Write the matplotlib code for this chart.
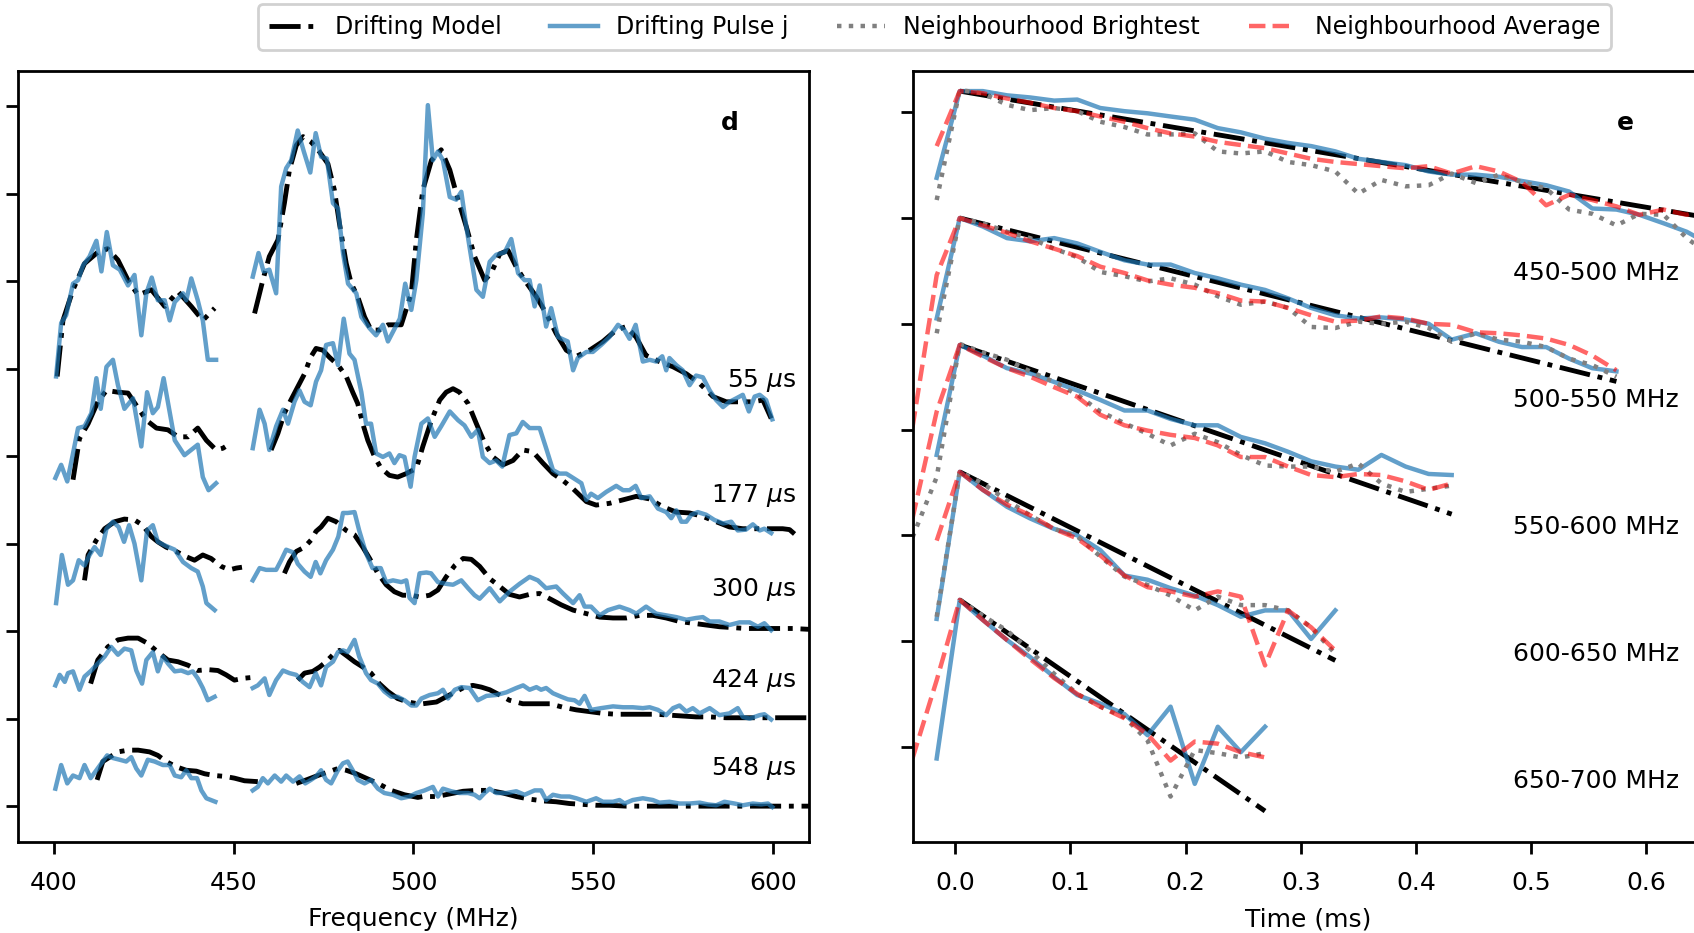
import numpy as np
import matplotlib.pyplot as plt

nan = np.nan

# =========================================================
# Panel d: spectra of the drifting pulse at five times
# (values relative to each pulse's stacking offset)
# =========================================================
pulse_times_us = [55, 177, 300, 424, 548]
pulse_offsets = [4, 3, 2, 1, 0]
pulse_label_y = [4.86, 3.55, 2.47, 1.44, 0.43]

# --- 55 us ---
p55_freq = [400.6, 402.0, 403.4, 405.3, 406.7, 408.1, 409.9, 411.8, 413.2, 414.7, 416.4, 418.3,
            420.6, 422.4, 424.3, 425.7, 427.2, 428.9, 430.8, 432.2, 433.6, 435.9, 436.8, 438.2,
            440.0, 441.4, 442.8, 445.1, nan,
            455.3, 456.9, 458.3, 459.9, 461.8, 462.5, 463.2, 464.6, 466.0, 467.8, 469.5, 471.3,
            472.8, 474.3, 475.9, 477.6, 479.0, 480.4, 481.8, 484.1, 485.5, 487.8, 489.6, 491.5,
            492.9, 494.3, 496.2, 497.7, 499.4, 500.8, 502.6, 504.0, 505.4, 506.8, 508.2, 510.1,
            511.9, 513.3, 514.7, 517.5, 519.3, 521.2, 523.0, 525.4, 527.2, 529.1, 530.9, 532.3,
            533.7, 535.1, 536.9, 538.3, 540.2, 542.9, 544.4, 545.7, 548.1, 549.9, 552.2, 554.5,
            556.9, 558.7, 560.1, 561.8, 563.8, 565.7, 567.5, 569.2, 570.3, 571.2, 573.1, 574.9,
            576.8, 578.6, 580.5, 582.4, 584.2, 586.1, 587.9, 589.8, 591.6, 593.3, 594.9, 596.3,
            598.1, 599.8]
p55_data = [0.91, 1.52, 1.61, 1.97, 2.01, 2.18, 2.28, 2.46, 2.11, 2.56, 2.18, 2.13,
            1.95, 2.07, 1.38, 1.86, 2.04, 1.78, 1.78, 1.55, 1.76, 1.86, 1.78, 2.03,
            1.78, 1.55, 1.10, 1.10, nan,
            2.05, 2.32, 2.11, 2.13, 1.86, 2.47, 3.08, 3.29, 3.38, 3.72, 3.48, 3.24,
            3.69, 3.42, 3.40, 2.89, 2.83, 2.32, 1.97, 1.86, 1.59, 1.46, 1.38, 1.50,
            1.31, 1.42, 1.57, 1.97, 1.67, 2.01, 2.77, 4.01, 3.38, 3.48, 3.38, 2.96,
            2.93, 3.02, 2.62, 1.90, 1.82, 2.22, 2.30, 2.33, 2.48, 2.09, 2.01, 2.01,
            1.71, 1.95, 1.48, 1.69, 1.36, 1.31, 0.98, 1.12, 1.19, 1.19, 1.27, 1.36,
            1.50, 1.44, 1.34, 1.50, 1.08, 1.10, 1.08, 1.14, 0.98, 1.12, 1.04, 0.98,
            0.81, 0.92, 0.90, 0.75, 0.64, 0.56, 0.62, 0.66, 0.70, 0.51, 0.68, 0.70,
            0.64, 0.42]
p55_model_freq = [400.9, 402.5, 405.3, 408.5, 412.2, 414.9, 417.8, 420.6, 423.4, 427.1, 430.8,
                  434.5, 438.2, 441.4, 444.7, nan,
                  455.8, 458.1, 459.9, 462.3, 464.1, 465.5, 467.4, 469.3, 471.5, 473.8, 476.2,
                  478.0, 479.4, 481.3, 482.7, 484.5, 486.4, 488.2, 490.5, 492.9, 496.6, 499.4,
                  500.8, 502.6, 505.0, 507.7, 510.1, 512.4, 514.7, 517.0, 519.8, 521.6, 524.0,
                  526.3, 528.6, 530.9, 534.2, 536.9, 539.7, 542.5, 545.3, 549.0, 552.7, 556.4,
                  559.2, 561.9, 564.7, 568.4, 572.2, 575.9, 579.6, 583.3, 587.0, 590.7, 594.4,
                  597.2, 599.5]
p55_model = [0.91, 1.55, 1.90, 2.20, 2.33, 2.37, 2.24, 2.01, 1.84, 1.90, 1.71,
             1.88, 1.71, 1.55, 1.69, nan,
             1.63, 2.01, 2.28, 2.47, 2.89, 3.27, 3.55, 3.65, 3.59, 3.48, 3.34,
             3.04, 2.66, 2.20, 1.97, 1.82, 1.59, 1.44, 1.44, 1.50, 1.50, 1.86,
             2.47, 3.04, 3.38, 3.50, 3.27, 2.93, 2.62, 2.28, 2.01, 2.09, 2.31,
             2.35, 2.16, 2.01, 1.82, 1.63, 1.40, 1.21, 1.14, 1.21, 1.31, 1.44,
             1.48, 1.36, 1.15, 1.08, 1.02, 0.94, 0.83, 0.68, 0.62, 0.62, 0.62,
             0.64, 0.43]

# --- 177 us ---
p177_freq = [400.4, 402.0, 403.7, 405.3, 406.7, 408.5, 410.4, 411.8, 413.0, 414.6, 416.4, 417.8,
             419.6, 422.0, 424.3, 425.9, 427.5, 428.9, 430.5, 433.6, 436.3, 440.0, 441.4, 443.0,
             445.1, nan,
             455.3, 457.2, 458.6, 459.9, 461.8, 463.7, 465.1, 466.9, 468.3, 469.7, 471.4, 472.9,
             474.3, 475.7, 477.6, 479.0, 480.6, 482.2, 483.6, 485.5, 486.8, 488.2, 489.6, 491.5,
             493.3, 494.7, 496.1, 497.5, 499.2, 500.3, 502.2, 504.0, 505.9, 507.7, 510.1, 512.4,
             514.2, 516.1, 517.9, 519.3, 521.2, 523.0, 524.7, 526.7, 528.6, 530.4, 532.3, 535.1,
             536.9, 538.8, 540.6, 542.5, 544.8, 546.7, 548.1, 549.4, 551.3, 553.6, 556.4, 558.3,
             560.1, 561.8, 563.4, 565.7, 568.0, 570.3, 571.7, 573.1, 574.5, 575.9, 577.3, 579.1,
             581.4, 583.7, 586.1, 588.4, 590.2, 592.5, 594.4, 596.3, 597.6, 599.5]
p177_data = [0.75, 0.90, 0.71, 1.03, 1.32, 1.34, 1.49, 1.89, 1.54, 2.02, 2.10, 1.81,
             1.54, 1.66, 1.11, 1.73, 1.49, 1.56, 1.89, 1.18, 1.01, 1.13, 0.76, 0.61,
             0.69, nan,
             1.09, 1.53, 1.37, 1.07, 1.34, 1.53, 1.37, 1.62, 1.75, 1.62, 1.58, 1.85,
             1.98, 2.27, 2.29, 2.04, 2.57, 2.17, 2.10, 1.73, 1.37, 1.37, 1.03, 0.99,
             1.03, 0.92, 1.01, 0.99, 0.65, 0.99, 1.37, 1.43, 1.22, 1.34, 1.51, 1.41,
             1.35, 1.22, 1.30, 0.99, 0.92, 0.95, 0.88, 1.24, 1.26, 1.39, 1.32, 1.32,
             1.09, 0.84, 0.80, 0.80, 0.74, 0.69, 0.50, 0.57, 0.52, 0.59, 0.66, 0.61,
             0.61, 0.66, 0.52, 0.54, 0.40, 0.36, 0.29, 0.38, 0.25, 0.25, 0.33, 0.36,
             0.33, 0.27, 0.23, 0.25, 0.15, 0.16, 0.22, 0.15, 0.17, 0.12]
p177_model_freq = [405.3, 407.1, 409.5, 412.2, 414.6, 417.8, 420.6, 422.9, 425.7, 428.5, 431.7,
                   434.5, 437.3, 440.0, 442.4, 445.1, 447.0, 449.3, nan,
                   460.4, 462.3, 464.1, 465.9, 467.8, 469.7, 471.4, 472.9, 474.8, 476.6, 479.0,
                   481.3, 483.1, 484.5, 485.9, 487.3, 489.2, 491.0, 493.3, 495.6, 498.0, 500.8,
                   502.6, 505.0, 507.3, 509.1, 511.0, 512.8, 515.2, 517.5, 519.8, 522.1, 524.9,
                   527.7, 530.4, 533.2, 536.0, 538.8, 541.6, 544.3, 548.1, 550.8, 554.5, 558.3,
                   562.0, 565.7, 569.4, 573.1, 576.8, 580.5, 584.2, 587.9, 591.6, 595.3, 599.0,
                   602.7, 604.6, 606.0]
p177_model = [0.73, 1.20, 1.37, 1.62, 1.75, 1.73, 1.72, 1.58, 1.41, 1.32, 1.30,
              1.22, 1.22, 1.32, 1.18, 1.07, 1.09, 1.15, nan,
              1.07, 1.26, 1.49, 1.64, 1.79, 1.94, 2.13, 2.23, 2.21, 2.13, 2.04,
              1.91, 1.73, 1.60, 1.37, 1.18, 0.99, 0.86, 0.78, 0.76, 0.80, 0.86,
              1.11, 1.41, 1.64, 1.73, 1.77, 1.73, 1.60, 1.37, 1.15, 0.99, 0.90,
              0.95, 1.07, 1.05, 0.92, 0.80, 0.72, 0.63, 0.48, 0.44, 0.46, 0.50,
              0.54, 0.51, 0.42, 0.36, 0.35, 0.31, 0.25, 0.19, 0.17, 0.17, 0.17,
              0.17, 0.16, 0.11]

# --- 300 us ---
p300_freq = [400.6, 402.2, 403.9, 405.3, 406.9, 408.5, 409.9, 411.3, 413.0, 414.6, 416.4, 418.0,
             419.5, 420.9, 422.4, 424.3, 425.9, 427.5, 428.9, 430.8, 433.6, 435.9, 438.2, 440.0,
             441.4, 442.4, 444.7, nan,
             455.3, 457.2, 459.0, 461.8, 463.2, 464.6, 466.5, 467.8, 469.7, 471.4, 472.8, 474.1,
             475.7, 477.6, 479.1, 480.4, 481.7, 483.6, 484.9, 486.8, 488.6, 490.9, 492.4, 494.3,
             496.6, 498.0, 498.9, 500.3, 501.7, 503.6, 504.9, 506.8, 509.1, 511.0, 513.3, 515.2,
             517.0, 518.4, 521.2, 524.0, 526.7, 529.5, 532.3, 534.6, 536.9, 539.7, 541.6, 544.4,
             546.2, 547.6, 549.4, 551.8, 554.1, 557.3, 560.1, 562.0, 564.7, 567.5, 570.3, 573.1,
             575.9, 578.6, 580.5, 582.4, 585.1, 587.9, 590.7, 593.5, 595.8, 597.6, 599.5]
p300_data = [0.32, 0.87, 0.53, 0.58, 0.81, 0.75, 0.87, 0.96, 0.87, 1.17, 1.25, 1.19,
             1.02, 1.21, 1.00, 0.58, 1.15, 1.21, 1.02, 0.98, 0.93, 0.79, 0.72, 0.68,
             0.51, 0.32, 0.24, nan,
             0.58, 0.72, 0.70, 0.70, 0.81, 0.93, 0.90, 0.77, 0.68, 0.62, 0.79, 0.66,
             0.81, 0.93, 1.08, 1.35, 1.35, 1.36, 1.15, 0.89, 0.72, 0.72, 0.56, 0.58,
             0.56, 0.58, 0.38, 0.32, 0.66, 0.67, 0.66, 0.56, 0.54, 0.53, 0.58, 0.49,
             0.41, 0.37, 0.49, 0.34, 0.45, 0.54, 0.62, 0.58, 0.49, 0.51, 0.43, 0.32,
             0.41, 0.28, 0.28, 0.18, 0.24, 0.28, 0.24, 0.20, 0.28, 0.20, 0.18, 0.16,
             0.13, 0.15, 0.16, 0.11, 0.11, 0.07, 0.10, 0.10, 0.05, 0.09, 0.01]
p300_model_freq = [408.5, 409.5, 411.8, 414.1, 416.9, 419.6, 422.4, 424.7, 427.1, 428.9, 431.2,
                   434.0, 436.8, 439.1, 441.4, 443.7, 446.5, 448.8, 450.7, 452.3, nan,
                   464.1, 465.5, 467.4, 469.7, 471.5, 472.9, 474.3, 476.2, 478.5, 481.3, 483.6,
                   485.9, 487.8, 490.1, 492.4, 494.7, 497.0, 499.4, 501.7, 504.5, 506.8, 509.1,
                   511.5, 513.8, 516.1, 518.4, 521.2, 524.0, 526.7, 529.5, 532.3, 535.1, 537.9,
                   541.1, 544.4, 548.1, 551.8, 555.5, 559.2, 562.9, 566.6, 570.3, 574.0, 577.7,
                   581.4, 585.1, 588.8, 592.5, 596.3, 600.9, 605.5, 610.2]
p300_model = [0.58, 0.87, 1.04, 1.17, 1.25, 1.28, 1.27, 1.21, 1.08, 1.02, 0.96,
              0.91, 0.85, 0.81, 0.87, 0.83, 0.74, 0.70, 0.72, 0.73, nan,
              0.66, 0.79, 0.91, 0.96, 1.04, 1.14, 1.19, 1.29, 1.25, 1.15, 1.10,
              0.96, 0.83, 0.66, 0.53, 0.45, 0.41, 0.41, 0.39, 0.41, 0.47, 0.62,
              0.75, 0.83, 0.82, 0.74, 0.60, 0.51, 0.42, 0.39, 0.42, 0.43, 0.37,
              0.30, 0.24, 0.20, 0.16, 0.15, 0.15, 0.18, 0.18, 0.15, 0.11, 0.09,
              0.07, 0.05, 0.04, 0.03, 0.03, 0.03, 0.03, 0.02]

# --- 424 us ---
p424_freq = [400.4, 401.6, 403.0, 403.9, 405.3, 407.1, 408.5, 410.4, 412.2, 414.1, 415.9, 417.8,
             419.6, 421.5, 422.9, 424.5, 425.7, 427.5, 428.9, 430.3, 431.7, 433.6, 435.4, 437.3,
             438.6, 440.0, 441.4, 442.8, 444.7, nan,
             455.3, 456.7, 458.6, 459.9, 461.8, 463.7, 465.5, 467.4, 469.2, 471.1, 472.8, 474.3,
             475.7, 477.6, 479.0, 480.4, 481.7, 483.6, 484.9, 486.8, 488.2, 490.1, 491.9, 493.8,
             495.6, 497.5, 499.4, 500.8, 502.2, 504.5, 506.8, 508.2, 509.6, 511.5, 513.3, 515.6,
             517.9, 520.3, 523.0, 525.8, 528.6, 530.5, 532.3, 534.2, 535.5, 536.9, 538.8, 541.1,
             543.0, 544.8, 546.2, 547.6, 549.4, 552.2, 555.5, 558.3, 561.0, 563.8, 565.7, 568.0,
             570.3, 572.2, 574.0, 575.9, 577.7, 579.6, 582.4, 585.1, 587.9, 590.2, 591.6, 593.5,
             596.3, 597.6, 599.5]
p424_data = [0.38, 0.50, 0.42, 0.52, 0.54, 0.33, 0.48, 0.55, 0.63, 0.71, 0.82, 0.73,
             0.80, 0.78, 0.55, 0.40, 0.67, 0.76, 0.54, 0.71, 0.63, 0.54, 0.55, 0.52,
             0.54, 0.46, 0.35, 0.21, 0.25, nan,
             0.35, 0.38, 0.46, 0.27, 0.44, 0.55, 0.52, 0.50, 0.42, 0.36, 0.52, 0.38,
             0.59, 0.65, 0.76, 0.78, 0.76, 0.90, 0.71, 0.52, 0.44, 0.40, 0.31, 0.25,
             0.25, 0.21, 0.15, 0.15, 0.23, 0.27, 0.29, 0.33, 0.23, 0.33, 0.36, 0.35,
             0.21, 0.26, 0.27, 0.30, 0.35, 0.38, 0.33, 0.36, 0.33, 0.35, 0.29, 0.25,
             0.22, 0.21, 0.17, 0.26, 0.10, 0.12, 0.14, 0.13, 0.13, 0.12, 0.13, 0.10,
             0.04, 0.12, 0.15, 0.08, 0.12, 0.06, 0.12, 0.04, 0.06, 0.12, 0.02, 0.00,
             0.04, 0.05, -0.01]
p424_model_freq = [410.2, 412.2, 415.0, 417.8, 420.6, 423.4, 426.1, 428.9, 431.7, 434.5, 437.3,
                   440.0, 442.8, 445.6, 447.9, 450.2, 452.5, 454.9, nan,
                   467.8, 469.7, 472.0, 473.9, 475.7, 477.6, 479.4, 481.7, 483.6, 485.9, 488.2,
                   490.5, 492.9, 495.6, 498.4, 501.2, 502.6, 506.4, 509.1, 511.9, 514.2, 516.5,
                   518.9, 521.2, 524.0, 526.7, 530.4, 534.2, 537.9, 541.6, 545.3, 549.0, 552.7,
                   556.4, 560.1, 563.8, 567.5, 571.2, 574.9, 578.6, 582.3, 587.0, 591.6, 596.3,
                   600.9, 605.5, 610.2]
p424_model = [0.40, 0.67, 0.82, 0.90, 0.92, 0.92, 0.86, 0.76, 0.67, 0.65, 0.61,
              0.55, 0.56, 0.55, 0.50, 0.44, 0.46, 0.47, nan,
              0.44, 0.52, 0.54, 0.59, 0.65, 0.73, 0.78, 0.71, 0.65, 0.59, 0.52,
              0.40, 0.31, 0.23, 0.19, 0.17, 0.17, 0.19, 0.25, 0.31, 0.36, 0.38,
              0.36, 0.33, 0.27, 0.21, 0.17, 0.17, 0.17, 0.13, 0.10, 0.08, 0.06,
              0.05, 0.05, 0.05, 0.05, 0.04, 0.03, 0.02, 0.02, 0.01, 0.01, 0.01,
              0.01, 0.01, 0.01]

# --- 548 us ---
p548_freq = [400.4, 402.0, 403.7, 405.3, 407.1, 408.5, 410.2, 411.8, 413.2, 414.8, 416.4, 418.3,
             420.1, 421.5, 422.9, 424.3, 426.1, 428.0, 430.3, 432.2, 433.6, 435.4, 436.8, 438.2,
             439.8, 441.0, 442.4, 444.9, nan,
             455.3, 456.7, 458.1, 459.5, 461.4, 463.2, 464.6, 466.5, 468.3, 469.9, 471.5, 472.9,
             474.3, 475.7, 477.1, 479.0, 480.4, 481.7, 483.1, 484.5, 486.4, 488.2, 490.1, 491.9,
             494.3, 496.6, 498.9, 500.8, 503.1, 505.4, 506.8, 508.2, 510.5, 512.8, 515.2, 517.0,
             518.4, 519.8, 521.2, 523.0, 525.8, 528.6, 530.9, 533.7, 535.5, 536.9, 538.8, 541.1,
             543.4, 545.3, 548.1, 550.8, 552.7, 555.5, 557.3, 558.7, 561.0, 563.8, 566.6, 568.4,
             571.2, 574.0, 576.8, 579.6, 581.9, 584.2, 586.5, 589.3, 591.6, 594.4, 596.7, 598.6,
             599.8]
p548_data = [0.20, 0.47, 0.26, 0.35, 0.32, 0.47, 0.32, 0.41, 0.49, 0.58, 0.55, 0.53,
             0.51, 0.56, 0.43, 0.35, 0.53, 0.51, 0.47, 0.47, 0.35, 0.33, 0.41, 0.32,
             0.32, 0.18, 0.09, 0.05, nan,
             0.18, 0.22, 0.32, 0.26, 0.35, 0.28, 0.35, 0.28, 0.34, 0.26, 0.30, 0.34,
             0.41, 0.30, 0.26, 0.41, 0.49, 0.51, 0.41, 0.30, 0.26, 0.30, 0.20, 0.15,
             0.13, 0.09, 0.11, 0.15, 0.18, 0.22, 0.11, 0.20, 0.17, 0.15, 0.15, 0.13,
             0.09, 0.15, 0.20, 0.15, 0.15, 0.17, 0.13, 0.18, 0.18, 0.07, 0.13, 0.11,
             0.11, 0.09, 0.05, 0.09, 0.05, 0.05, 0.07, 0.03, 0.07, 0.09, 0.07, 0.04,
             0.05, 0.03, 0.03, 0.04, 0.02, 0.01, 0.05, 0.03, 0.01, 0.03, 0.02, 0.03,
             -0.01]
p548_model_freq = [412.0, 413.6, 415.5, 417.8, 420.6, 423.4, 426.6, 428.9, 431.2, 434.0, 436.8,
                   439.6, 441.9, 444.7, 447.5, 450.2, 453.0, 456.7, nan,
                   467.4, 470.2, 473.4, 476.2, 479.0, 481.3, 484.1, 486.8, 490.1, 493.8, 497.5,
                   501.2, 502.6, 506.4, 510.1, 513.8, 517.5, 521.2, 524.9, 528.6, 532.3, 536.0,
                   539.7, 543.4, 547.1, 550.8, 554.5, 559.2, 570.0, 585.0, 600.0, 610.2]
p548_model = [0.30, 0.51, 0.56, 0.62, 0.64, 0.64, 0.62, 0.58, 0.51, 0.45, 0.41,
              0.40, 0.37, 0.35, 0.34, 0.32, 0.29, 0.28, nan,
              0.26, 0.30, 0.35, 0.39, 0.43, 0.41, 0.37, 0.32, 0.26, 0.18, 0.13,
              0.10, 0.11, 0.11, 0.14, 0.17, 0.18, 0.18, 0.15, 0.11, 0.08, 0.06,
              0.05, 0.03, 0.02, 0.01, 0.01, 0.00, 0.00, 0.00, 0.00, 0.00]

spec_freq = [p55_freq, p177_freq, p300_freq, p424_freq, p548_freq]
spec_data = [p55_data, p177_data, p300_data, p424_data, p548_data]
spec_model_freq = [p55_model_freq, p177_model_freq, p300_model_freq, p424_model_freq, p548_model_freq]
spec_model = [p55_model, p177_model, p300_model, p424_model, p548_model]

# =========================================================
# Panel e: time profiles in five frequency bands
# =========================================================
time_ms = [-0.037, -0.016, 0.004, 0.024, 0.045, 0.065, 0.086, 0.106, 0.126, 0.147, 0.167,
           0.187, 0.208, 0.228, 0.248, 0.269, 0.289, 0.309, 0.330, 0.350, 0.370, 0.391,
           0.411, 0.431, 0.452, 0.472, 0.492, 0.513, 0.533, 0.553, 0.574, 0.594, 0.615,
           0.635, 0.655]

band_labels = ["450-500 MHz", "500-550 MHz", "550-600 MHz", "600-650 MHz", "650-700 MHz"]
band_label_y = [4.48, 3.28, 2.08, 0.88, -0.32]

# drifting model: straight line from the peak to the last sample
model_peak = [6.20, 5.00, 3.80, 2.60, 1.39]
model_last = [5.00, 3.455, 2.20, 0.817, -0.607]
model_last_ms = [0.655, 0.574, 0.431, 0.330, 0.269]

pulse_j = [
    [nan, 5.38, 6.20, 6.20, 6.16, 6.14, 6.11, 6.12, 6.04, 6.01, 5.99, 5.96, 5.93, 5.85, 5.81,
     5.75, 5.71, 5.68, 5.63, 5.56, 5.53, 5.50, 5.44, 5.41, 5.41, 5.39, 5.35, 5.31, 5.25, 5.09,
     5.08, 5.03, 4.95, 4.87, 4.75],
    [nan, 4.05, 5.00, 4.92, 4.81, 4.78, 4.81, 4.76, 4.68, 4.60, 4.56, 4.56, 4.48, 4.43, 4.37,
     4.32, 4.24, 4.15, 4.08, 4.05, 4.06, 4.04, 4.00, 3.85, 3.91, 3.83, 3.78, 3.78, 3.67, 3.58,
     3.55],
    [nan, 2.76, 3.80, 3.70, 3.58, 3.53, 3.45, 3.37, 3.28, 3.18, 3.18, 3.10, 3.04, 3.04, 2.93,
     2.87, 2.79, 2.70, 2.65, 2.62, 2.76, 2.65, 2.58, 2.57],
    [nan, 1.21, 2.60, 2.43, 2.27, 2.16, 2.06, 2.00, 1.86, 1.62, 1.58, 1.50, 1.43, 1.34, 1.23,
     1.29, 1.29, 1.02, 1.29],
    [nan, -0.11, 1.39, 1.20, 1.01, 0.85, 0.66, 0.49, 0.41, 0.31, 0.11, 0.38, -0.35, 0.19,
     -0.05, 0.19],
]
brightest = [
    [nan, 5.17, 6.21, 6.18, 6.07, 6.02, 6.04, 6.01, 5.91, 5.86, 5.79, 5.79, 5.80, 5.63, 5.61,
     5.63, 5.53, 5.50, 5.44, 5.23, 5.36, 5.30, 5.31, 5.42, 5.33, 5.41, 5.34, 5.28, 5.08, 5.04,
     4.93, 5.04, 5.03, 4.81, 4.65],
    [nan, 3.91, 5.00, 4.95, 4.87, 4.81, 4.71, 4.63, 4.49, 4.45, 4.40, 4.43, 4.37, 4.26, 4.18,
     4.21, 4.15, 3.97, 3.96, 4.02, 4.00, 4.02, 3.96, 3.83, 3.91, 3.85, 3.83, 3.78, 3.67, 3.61,
     3.50],
    [1.98, 2.55, 3.81, 3.73, 3.66, 3.55, 3.45, 3.33, 3.17, 3.06, 2.96, 2.85, 2.96, 2.88, 2.76,
     2.66, 2.65, 2.65, 2.60, 2.68, 2.49, 2.41, 2.44, 2.47],
    [nan, 1.23, 2.60, 2.49, 2.33, 2.19, 2.06, 1.99, 1.80, 1.61, 1.53, 1.43, 1.29, 1.42, 1.34,
     1.34, 1.29, 1.13, 0.88],
    [nan, nan, 1.39, 1.24, 1.10, 0.91, 0.69, 0.50, 0.38, 0.28, 0.06, -0.47, -0.03, -0.06,
     -0.10, -0.06],
]
average = [
    [nan, 5.68, 6.20, 6.18, 6.13, 6.09, 6.04, 6.01, 5.96, 5.91, 5.85, 5.80, 5.77, 5.72, 5.69,
     5.66, 5.61, 5.56, 5.53, 5.51, 5.49, 5.47, 5.49, 5.42, 5.49, 5.44, 5.34, 5.12, 5.22, 5.17,
     5.11, 5.03, 5.08, 5.03, 5.10],
    [3.02, 4.46, 5.00, 4.93, 4.86, 4.78, 4.71, 4.64, 4.54, 4.48, 4.41, 4.37, 4.34, 4.29, 4.22,
     4.21, 4.15, 4.08, 4.02, 4.03, 4.07, 4.05, 4.00, 3.99, 3.92, 3.91, 3.89, 3.86, 3.80, 3.70,
     3.56],
    [2.16, 3.17, 3.80, 3.69, 3.58, 3.50, 3.40, 3.31, 3.14, 3.04, 2.99, 2.95, 2.92, 2.85, 2.74,
     2.74, 2.65, 2.57, 2.55, 2.58, 2.57, 2.51, 2.43, 2.49],
    [nan, 1.95, 2.60, 2.43, 2.29, 2.19, 2.06, 1.97, 1.81, 1.62, 1.51, 1.47, 1.42, 1.47, 1.42,
     0.77, 1.29, 1.13, 0.91],
    [-0.11, 0.63, 1.39, 1.20, 1.01, 0.83, 0.65, 0.50, 0.38, 0.27, 0.12, -0.13, 0.05, 0.03,
     -0.05, -0.10],
]


def padded(values):
    return np.array(values + [nan] * (len(time_ms) - len(values)), dtype=float)


# =========================================================
# Figure
# =========================================================
plt.rcParams['font.size'] = 18
plt.rcParams['mathtext.default'] = 'it'

fig = plt.figure(figsize=(16.94, 9.33), dpi=100)
ax_d = fig.add_axes([0.01063, 0.0975, 0.4669, 0.8264])
ax_e = fig.add_axes([0.5390, 0.0975, 0.4669, 0.8264])

blue = '#1f77b4'

# ------------------------------------------------------
# Panel d
# ------------------------------------------------------
for i in range(len(pulse_times_us)):
    off = pulse_offsets[i]
    ax_d.plot(spec_model_freq[i], np.array(spec_model[i]) + off,
              color='k', linestyle='-.', linewidth=3.5)
    ax_d.plot(spec_freq[i], np.array(spec_data[i]) + off,
              color=blue, alpha=0.7, linewidth=3.2)
    ax_d.text(606.5, pulse_label_y[i], f"{pulse_times_us[i]} $\\mu$s",
              ha='right', va='center', fontsize=18)

ax_d.set_xlim(390, 610)
ax_d.set_ylim(-0.41, 8.4)
ax_d.set_xticks([400, 450, 500, 550, 600])
ax_d.set_yticks(range(9))
ax_d.set_yticklabels([])
ax_d.set_xlabel("Frequency (MHz)", labelpad=9)
ax_d.text(0.90, 0.933, "d", transform=ax_d.transAxes, ha='center', va='center',
          fontsize=18, fontweight='bold')

# ------------------------------------------------------
# Panel e
# ------------------------------------------------------
t = np.array(time_ms)
for i in range(len(band_labels)):
    ax_e.plot([t[2], model_last_ms[i]], [model_peak[i], model_last[i]],
              color='k', linestyle='-.', linewidth=3.5,
              label='Drifting Model' if i == 0 else None)
    ax_e.plot(t, padded(pulse_j[i]), color=blue, alpha=0.7, linewidth=3.2,
              label='Drifting Pulse j' if i == 0 else None)
    ax_e.plot(t, padded(brightest[i]), color='grey', linestyle=':', linewidth=3.2,
              label='Neighbourhood Brightest' if i == 0 else None)
    ax_e.plot(t, padded(average[i]), color='red', alpha=0.6, linestyle='--', linewidth=3.2,
              label='Neighbourhood Average' if i == 0 else None)
    ax_e.text(0.484, band_label_y[i], band_labels[i], ha='left', va='center', fontsize=18)

ax_e.set_xlim(-0.0365, 0.650)
ax_e.set_ylim(-0.90, 6.39)
ax_e.set_xticks([0.0, 0.1, 0.2, 0.3, 0.4, 0.5, 0.6])
ax_e.set_yticks(range(7))
ax_e.set_yticklabels([])
ax_e.set_xlabel("Time (ms)", labelpad=9)
ax_e.text(0.90, 0.933, "e", transform=ax_e.transAxes, ha='center', va='center',
          fontsize=18, fontweight='bold')

for ax in (ax_d, ax_e):
    for s in ax.spines.values():
        s.set_linewidth(2)
    ax.tick_params(direction='out', length=8.5, width=2, pad=12)

handles, labels = ax_e.get_legend_handles_labels()
leg = fig.legend(handles, labels, loc='center', bbox_to_anchor=(0.5517, 0.971), ncol=4,
                 fontsize=17, frameon=True, fancybox=True, edgecolor='0.82', framealpha=1,
                 borderpad=0.45, columnspacing=2.05, handletextpad=0.8)
leg.get_frame().set_linewidth(2)

fig.savefig('out.png', dpi=100)
